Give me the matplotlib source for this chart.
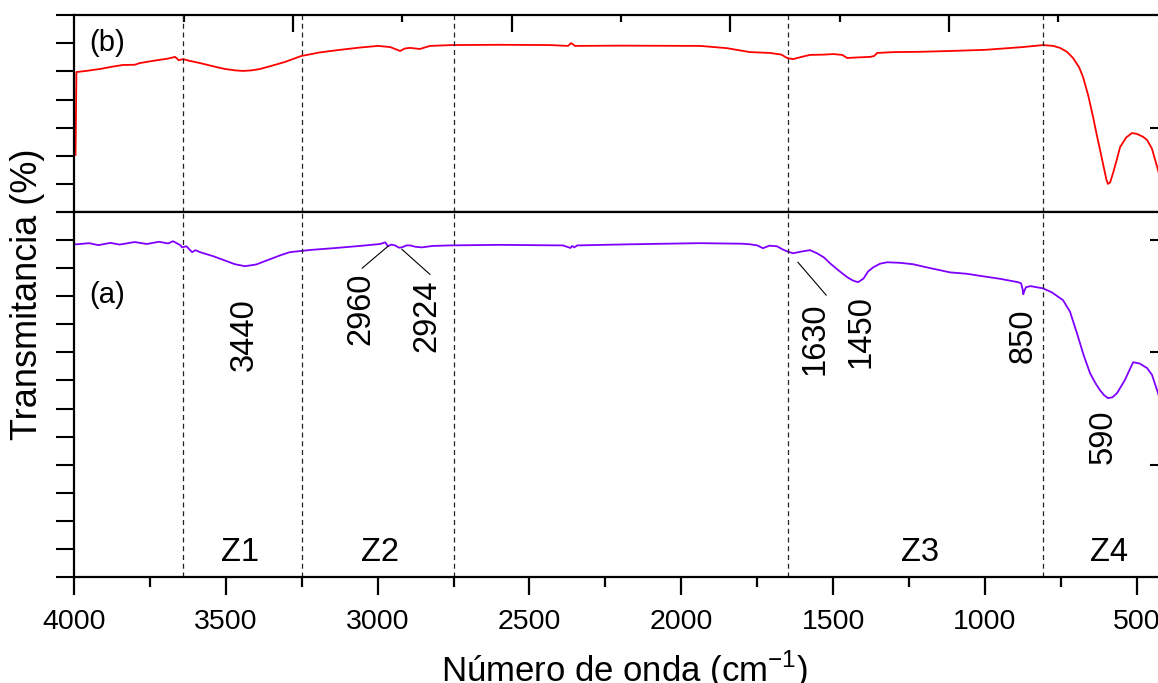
import numpy as np
import matplotlib.pyplot as plt

plt.rcParams['font.family'] = ['Liberation Sans', 'DejaVu Sans']
plt.rcParams['mathtext.fontset'] = 'custom'
plt.rcParams['mathtext.rm'] = 'Liberation Sans'

# espectro (b) - curva roja (panel superior)
wn_b = [3995, 3992, 3960, 3914, 3880, 3840, 3800, 3783, 3750, 3720, 3690, 3667, 3655,
        3641, 3620, 3585, 3540, 3503, 3470, 3443, 3415, 3387, 3350, 3305, 3252, 3190,
        3124, 3060, 2999, 2959, 2940, 2926, 2910, 2893, 2861, 2828, 2755, 2600, 2432,
        2373, 2363, 2350, 2200, 1938, 1850, 1774, 1708, 1670, 1652, 1632, 1600, 1576,
        1530, 1500, 1470, 1454, 1420, 1378, 1365, 1355, 1300, 1215, 1115, 1000, 874,
        809, 775, 753, 730, 710, 690, 677, 660, 644, 630, 621, 608, 600, 595, 588, 578,
        565, 555, 535, 516, 500, 480, 466, 450, 430, 417]
tr_b = [20.3, 49.8, 50.2, 50.9, 51.6, 52.3, 52.4, 53.0, 53.6, 54.1, 54.6, 55.2, 54.0,
        54.4, 53.8, 53.0, 51.8, 50.9, 50.4, 50.2, 50.4, 50.9, 52.0, 53.4, 55.5, 56.8,
        57.7, 58.5, 59.1, 58.7, 57.9, 57.3, 58.2, 58.4, 58.0, 59.1, 59.4, 59.5, 59.4,
        59.1, 60.1, 59.1, 59.2, 59.1, 58.3, 56.9, 56.6, 56.0, 54.8, 54.4, 55.3, 55.9,
        56.0, 56.2, 55.9, 54.8, 55.0, 55.2, 55.5, 56.6, 56.9, 57.0, 57.3, 57.7, 58.7,
        59.4, 59.1, 58.4, 57.0, 54.8, 51.5, 48.0, 41.5, 33.8, 26.5, 22.1, 15.5, 11.5,
        10.0, 10.5, 13.9, 19.0, 23.1, 26.5, 28.1, 27.8, 26.8, 25.6, 22.5, 14.9, 9.0]

# espectro (a) - curva morada (panel inferior)
wn_a = [4000, 3990, 3950, 3920, 3880, 3850, 3800, 3760, 3720, 3690, 3674, 3650, 3644,
        3630, 3611, 3600, 3585, 3540, 3500, 3470, 3437, 3400, 3364, 3320, 3289, 3220,
        3147, 3060, 2992, 2975, 2966, 2955, 2943, 2930, 2920, 2905, 2893, 2875, 2854,
        2820, 2762, 2600, 2390, 2365, 2360, 2352, 2343, 2169, 1938, 1800, 1774, 1750,
        1731, 1710, 1685, 1665, 1652, 1632, 1600, 1576, 1553, 1530, 1510, 1480, 1454,
        1435, 1418, 1400, 1385, 1368, 1345, 1322, 1280, 1237, 1180, 1115, 1060, 1006,
        950, 891, 881, 876, 874, 870, 865, 850, 809, 780, 743, 720, 697, 675, 654, 636,
        621, 608, 595, 580, 565, 540, 512, 490, 466, 450, 430, 417]
tr_a = [118.5, 118.5, 118.9, 118.2, 119.0, 118.4, 119.3, 118.6, 119.4, 118.8, 119.6,
        118.2, 117.4, 117.8, 115.7, 116.4, 115.7, 114.2, 112.6, 111.4, 110.7, 111.3,
        112.8, 114.6, 115.7, 116.5, 117.1, 117.9, 118.6, 119.2, 117.8, 118.4, 118.1,
        117.3, 117.4, 118.1, 118.1, 117.6, 117.4, 117.9, 118.1, 118.3, 118.1, 117.2,
        117.9, 117.4, 118.1, 118.5, 118.9, 118.7, 118.5, 118.1, 117.1, 118.0, 117.8,
        116.6, 116.0, 115.3, 116.0, 116.4, 115.3, 113.8, 111.7, 109.0, 106.8, 105.6,
        105.0, 106.3, 108.8, 110.3, 111.6, 112.1, 111.9, 111.4, 110.0, 108.5, 108.0,
        107.1, 106.2, 105.0, 104.6, 102.5, 100.7, 102.0, 103.2, 103.6, 102.8, 101.4,
        98.6, 94.5, 86.8, 79.0, 72.6, 69.0, 66.5, 64.8, 63.7, 64.0, 65.5, 70.0, 76.5,
        76.0, 74.4, 72.0, 65.5, 60.0]

# lineas de zonas (cm-1) y etiquetas
zonas = [3640, 3250, 2750, 1650, 810]
zona_lbl = ['Z1', 'Z2', 'Z3', 'Z4']
zona_x = [3453, 2992, 1214, 591]

picos = ['3440', '2960', '2924', '1630', '1450', '850', '590']
picos_x = [3440, 3055, 2837, 1560, 1408, 875, 611]
picos_y = [86.5, 95.4, 92.9, 84.7, 87.5, 86.1, 49.8]

# lineas guia de las etiquetas: (x0, y0, x1, y1)
guias = [(3051, 110.0, 2966, 117.8),
         (2920, 116.7, 2828, 107.8),
         (1616, 112.1, 1523, 100.4)]

top_major = [3279, 2558, 1839, 1118]
top_minor = [3638, 2919, 2199, 1478, 758]

fig = plt.figure(figsize=(11.58, 6.83), dpi=100)
W, H = 1158.0, 683.0
x0 = 74 / W
w = (1162 - 74) / W
ax_b = fig.add_axes([x0, 1 - 212 / H, w, 197 / H])
ax_a = fig.add_axes([x0, 1 - 577 / H, w, 365 / H])

ax_b.plot(wn_b, tr_b, color='#ff0000', lw=1.3)
ax_a.plot(wn_a, tr_a, color='#7f00ff', lw=1.3)

for ax in (ax_a, ax_b):
    ax.set_xlim(4000, 417)
    for s in ax.spines.values():
        s.set_linewidth(1.6)
    for z in zonas:
        ax.axvline(z, color='#222222', lw=0.9, ls=(0, (4, 3)))
    ax.tick_params(axis='y', which='both', direction='out', length=13, width=1.5,
                   labelleft=False, right=False)

ax_b.set_ylim(0, 70.1)
ax_b.set_yticks(np.arange(0, 71, 10))
ax_a.set_ylim(0, 130)
ax_a.set_yticks(np.arange(0, 131, 10))

ax_a.set_xticks([4000, 3500, 3000, 2500, 2000, 1500, 1000, 500])
ax_a.set_xticks([3750, 3250, 2750, 2250, 1750, 1250, 750], minor=True)
ax_a.tick_params(axis='x', which='major', direction='out', length=13, width=1.6,
                 labelsize=20.5, pad=10)
ax_a.tick_params(axis='x', which='minor', direction='out', length=7, width=1.6)

ax_b.set_xticks(top_major)
ax_b.set_xticks(top_minor, minor=True)
ax_b.tick_params(axis='x', which='both', bottom=False, top=True, direction='in',
                 labelbottom=False, labeltop=False, width=1.6)
ax_b.tick_params(axis='x', which='major', length=12)
ax_b.tick_params(axis='x', which='minor', length=5)

sec_b = ax_b.secondary_yaxis('right')
sec_b.set_yticks([30])
sec_b.tick_params(direction='in', length=9, width=1.5, labelright=False)
sec_a = ax_a.secondary_yaxis('right')
sec_a.set_yticks([40, 80, 120])
sec_a.tick_params(direction='in', length=9, width=1.5, labelright=False)

ax_b.text(3890, 60.1, '(b)', fontsize=21, ha='center', va='center')
ax_a.text(3890, 100.4, '(a)', fontsize=21, ha='center', va='center')

for t, px, py in zip(picos, picos_x, picos_y):
    ax_a.text(px, py, t, fontsize=23.5, rotation=90, ha='center', va='center')
for gx0, gy0, gx1, gy1 in guias:
    ax_a.plot([gx0, gx1], [gy0, gy1], color='black', lw=0.8)
for t, px in zip(zona_lbl, zona_x):
    ax_a.text(px, 8.9, t, fontsize=23.5, ha='center', va='center')

fig.text(28 / W, 1 - 294 / H, 'Transmitancia (%)', fontsize=26, rotation=90,
         ha='center', va='center')
fig.text(624 / W, 1 / H, 'Número de onda (cm$^{-1}$)', fontsize=25,
         ha='center', va='baseline')

fig.savefig('out.png', dpi=100)
